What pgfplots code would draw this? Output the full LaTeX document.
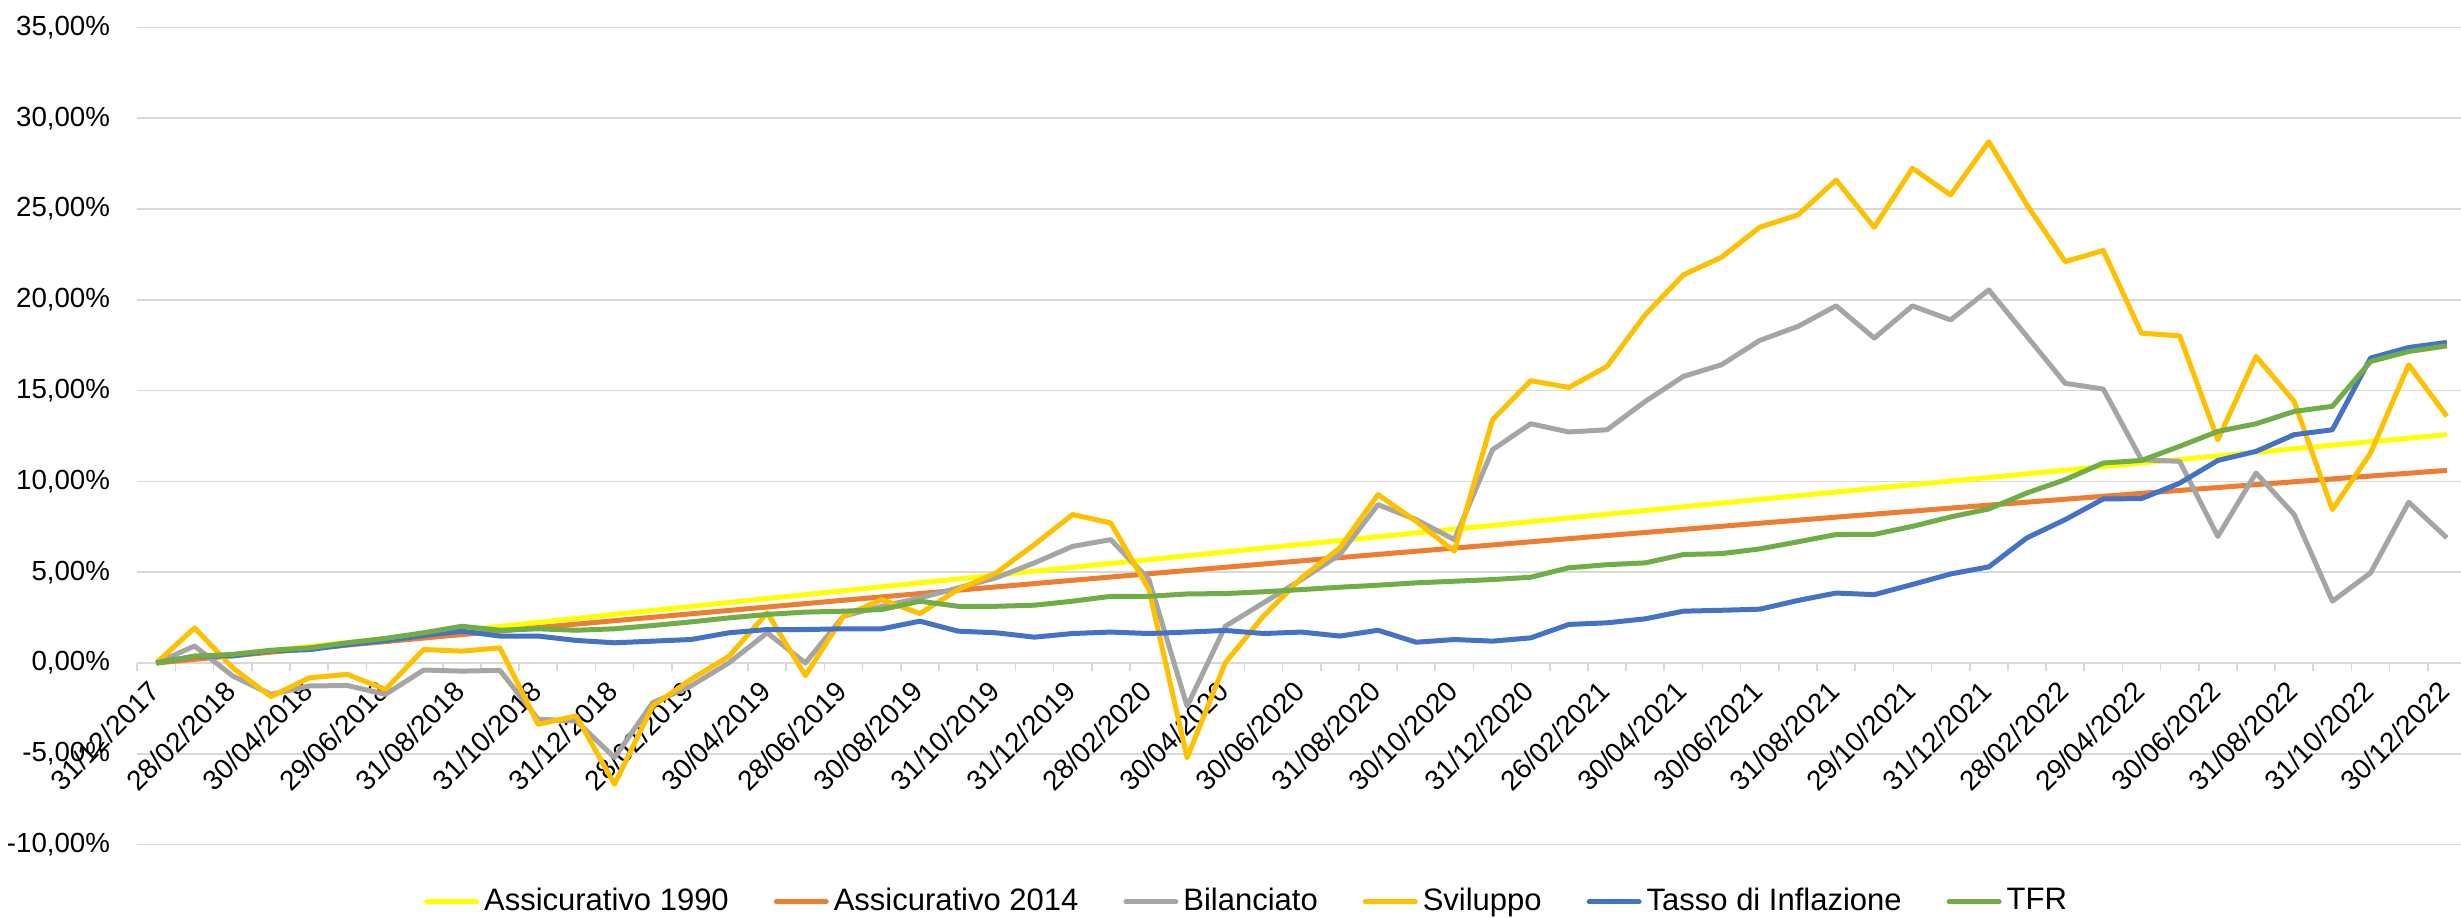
\documentclass[border=0pt]{standalone}
\usepackage{fontspec}
\setmainfont{Liberation Sans}
\usepackage{pgfplots}
\usepackage{pgfplotstable}
\pgfplotsset{compat=1.18}
\definecolor{cA}{HTML}{FFFF00}
\definecolor{cB}{HTML}{ED7D31}
\definecolor{cC}{HTML}{A5A5A5}
\definecolor{cD}{HTML}{FFC000}
\definecolor{cE}{HTML}{4472C4}
\definecolor{cF}{HTML}{70AD47}
\definecolor{gridc}{HTML}{D9D9D9}
\newcommand{\xtickfont}{\fontsize{8.4}{9}\selectfont}
\newcommand{\ytickfont}{\fontsize{8.3}{9}\selectfont}
\newcommand{\legfont}{\fontsize{9.3}{11}\selectfont}
\pgfplotstableread{
i a b c d e f
0 0 0 0 0 0 0
1 0.226 0.198 0.93 1.93 0.37 0.37
2 0.451 0.395 -0.72 -0.27 0.39 0.47
3 0.676 0.591 -1.73 -1.86 0.67 0.70
4 0.900 0.787 -1.27 -0.82 0.73 0.83
5 1.123 0.982 -1.24 -0.63 1.01 1.11
6 1.346 1.176 -1.73 -1.46 1.23 1.35
7 1.569 1.370 -0.39 0.74 1.51 1.66
8 1.790 1.563 -0.45 0.65 1.75 2.02
9 2.012 1.755 -0.41 0.83 1.48 1.80
10 2.233 1.946 -3.10 -3.38 1.48 1.88
11 2.453 2.137 -3.20 -2.92 1.24 1.80
12 2.672 2.327 -5.21 -6.68 1.11 1.88
13 2.892 2.516 -2.19 -2.37 1.20 2.06
14 3.110 2.705 -1.27 -0.91 1.29 2.26
15 3.328 2.892 0.01 0.37 1.66 2.48
16 3.546 3.080 1.66 2.76 1.84 2.67
17 3.763 3.266 0.00 -0.70 1.84 2.80
18 3.979 3.452 2.58 2.58 1.88 2.85
19 4.195 3.637 3.12 3.49 1.88 2.94
20 4.410 3.821 3.58 2.72 2.30 3.40
21 4.625 4.004 4.13 4.04 1.75 3.12
22 4.839 4.187 4.69 4.96 1.66 3.12
23 5.053 4.369 5.51 6.52 1.42 3.18
24 5.266 4.551 6.42 8.17 1.62 3.40
25 5.478 4.731 6.79 7.71 1.70 3.67
26 5.690 4.911 4.59 4.04 1.62 3.67
27 5.902 5.090 -2.38 -5.22 1.70 3.80
28 6.112 5.269 2.02 0.01 1.79 3.82
29 6.323 5.447 3.31 2.58 1.62 3.92
30 6.533 5.624 4.59 4.69 1.70 4.04
31 6.742 5.800 5.97 6.34 1.48 4.17
32 6.950 5.976 8.72 9.27 1.80 4.28
33 7.159 6.151 7.89 7.80 1.14 4.41
34 7.366 6.325 6.79 6.15 1.29 4.50
35 7.573 6.498 11.74 13.39 1.20 4.59
36 7.780 6.671 13.17 15.54 1.38 4.72
37 7.986 6.843 12.72 15.17 2.12 5.24
38 8.191 7.015 12.84 16.33 2.21 5.41
39 8.396 7.185 14.40 19.17 2.43 5.51
40 8.600 7.355 15.78 21.37 2.85 5.97
41 8.804 7.524 16.42 22.34 2.90 6.02
42 9.007 7.693 17.76 23.99 2.96 6.28
43 9.210 7.861 18.53 24.67 3.44 6.67
44 9.412 8.028 19.66 26.59 3.85 7.07
45 9.613 8.194 17.89 23.99 3.76 7.08
46 9.814 8.360 19.66 27.24 4.32 7.52
47 10.015 8.525 18.89 25.77 4.90 8.04
48 10.214 8.689 20.54 28.70 5.29 8.48
49 10.414 8.852 17.98 25.22 6.89 9.36
50 10.613 9.015 15.40 22.10 7.89 10.09
51 10.811 9.177 15.08 22.71 9.03 11.01
52 11.008 9.338 11.19 18.16 9.05 11.15
53 11.206 9.499 11.10 18.01 9.90 11.93
54 11.402 9.659 6.97 12.29 11.15 12.75
55 11.598 9.818 10.46 16.88 11.65 13.17
56 11.794 9.977 8.17 14.40 12.57 13.85
57 11.989 10.134 3.40 8.44 12.84 14.13
58 12.183 10.291 4.96 11.56 16.79 16.60
59 12.377 10.448 8.85 16.42 17.37 17.15
60 12.570 10.603 6.89 13.58 17.65 17.46
}\data

\begin{document}
\begin{tikzpicture}
\begin{axis}[
  at={(0,0)}, anchor=south west,
  scale only axis, width=697.2pt, height=245.2pt,
  xmin=-0.5, xmax=60.37, ymin=-10, ymax=35,
  axis x line=middle, axis y line=left,
  x axis line style={-, draw=gridc, line width=0.5pt},
  y axis line style={draw=none},
  hide obscured x ticks=false, hide obscured y ticks=false,
  xtick={0,2,...,60},
  xticklabels={31/12/2017,28/02/2018,30/04/2018,29/06/2018,31/08/2018,31/10/2018,31/12/2018,28/02/2019,30/04/2019,28/06/2019,30/08/2019,31/10/2019,31/12/2019,28/02/2020,30/04/2020,30/06/2020,31/08/2020,30/10/2020,31/12/2020,26/02/2021,30/04/2021,30/06/2021,31/08/2021,29/10/2021,31/12/2021,28/02/2022,29/04/2022,30/06/2022,31/08/2022,31/10/2022,30/12/2022},
  minor xtick={-0.5,0.5,...,59.5},
  xtick align=outside,
  major tick length=0pt, minor tick length=2.5pt,
  every minor tick/.append style={draw=gridc, line width=0.5pt},
  ytick={-10,-5,...,35},
  yticklabels={{-10,00\%},{-5,00\%},{0,00\%},{5,00\%},{10,00\%},{15,00\%},{20,00\%},{25,00\%},{30,00\%},{35,00\%}},
  ytick style={draw=none},
  ymajorgrids, grid style={draw=gridc, line width=0.5pt},
  xticklabel style={font=\xtickfont, yshift=-7pt, xshift=-0.5pt, rotate=45, anchor=east, inner sep=0pt},
  yticklabel style={font=\ytickfont, anchor=east, inner sep=0pt, xshift=-8pt},
  legend style={at={(0.478,-0.0701)}, anchor=center, draw=none, fill=none, font=\legfont,
    legend columns=-1, /tikz/every even column/.append style={column sep=12pt},
    inner sep=0pt, nodes={inner sep=1.5pt}},
  legend image code/.code={\draw[#1, line cap=round] (0pt,0pt) -- (15pt,0pt);},
]
\addplot[cA, line width=1.5pt, line join=round] table[x=i,y=a]{\data};
\addlegendentry{Assicurativo 1990}
\addplot[cB, line width=1.5pt, line join=round] table[x=i,y=b]{\data};
\addlegendentry{Assicurativo 2014}
\addplot[cC, line width=1.5pt, line join=round] table[x=i,y=c]{\data};
\addlegendentry{Bilanciato}
\addplot[cD, line width=1.5pt, line join=round] table[x=i,y=d]{\data};
\addlegendentry{Sviluppo}
\addplot[cE, line width=1.5pt, line join=round] table[x=i,y=e]{\data};
\addlegendentry{Tasso di Inflazione}
\addplot[cF, line width=1.5pt, line join=round] table[x=i,y=f]{\data};
\addlegendentry{TFR}
\end{axis}
\pgfresetboundingbox
\path[use as bounding box] (-41.2pt,-22.0pt) rectangle (697.2pt,253.4pt);
\end{tikzpicture}
\end{document}
